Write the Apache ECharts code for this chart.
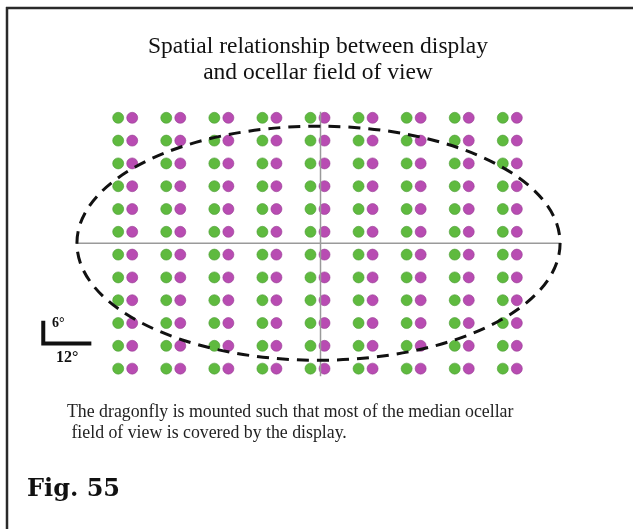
<!DOCTYPE html>
<html>
<head>
<meta charset="utf-8">
<script src="https://cdn.jsdelivr.net/npm/echarts@6/dist/echarts.min.js"></script>
<style>
html,body{margin:0;padding:0;background:#fff;}
#chart{width:633px;height:529px;}
</style>
</head>
<body>
<div id="chart"></div>
<script>
// Display layout, in degrees (azimuth, elevation)
const greenCols = [-50.5, -38.5, -26.5, -14.5, -2.5, 9.5, 21.5, 33.5, 45.5];
const magentaCols = [-47, -35, -23, -11, 1, 13, 25, 37, 49];
const rowElev = [33, 27, 21, 15, 9, 3, -3, -9, -15, -21, -27, -33];
// Ocellar field of view ellipse: [centerAz, centerEl, semiAz, semiEl]
const ocellarField = [[-0.5, 0, 60.3, 30.8]];
// Reference cross lines
const horizLine = [[-61, 0], [60, 0]];
const vertLine = [[0, 34.6], [0, -35]];
// Scale bar: 12 deg horizontal, 6 deg vertical
const scaleBar = [[-69.2, -20.4], [-69.2, -26.4], [-57.2, -26.4]];
const scaleLabels = ['6°', '12°'];
const titleLines = ['Spatial relationship between display', 'and ocellar field of view'];
const captionLines = ['The dragonfly is mounted such that most of the median ocellar', ' field of view is covered by the display.'];
const figLabel = 'Fig. 55';

function grid(cols, rows) {
  const out = [];
  rows.forEach(r => cols.forEach(c => out.push([c, r])));
  return out;
}

const chart = echarts.init(document.getElementById('chart'), null, {renderer: 'canvas'});
const serif = '"Liberation Serif", "Times New Roman", serif';
const option = {
  animation: false,
  backgroundColor: '#ffffff',
  grid: {left: 0, right: 0, top: 0, bottom: 0},
  xAxis: {type: 'value', min: -80, max: 78, show: false},
  yAxis: {type: 'value', min: -75.2, max: 64, show: false},
  series: [
    {
      type: 'scatter', name: 'green', data: grid(greenCols, rowElev),
      symbolSize: 11, z: 2,
      itemStyle: {color: '#5fba3f', borderColor: '#4a9a32', borderWidth: 0.6, opacity: 1}
    },
    {
      type: 'scatter', name: 'magenta', data: grid(magentaCols, rowElev),
      symbolSize: 11, z: 2,
      itemStyle: {color: '#b84cb2', borderColor: '#963a90', borderWidth: 0.6, opacity: 1}
    },
    {
      type: 'line', data: horizLine, symbol: 'none', z: 3,
      lineStyle: {color: '#9a9a9a', width: 1.5}
    },
    {
      type: 'line', data: vertLine, symbol: 'none', z: 3,
      lineStyle: {color: '#9a9a9a', width: 1.5}
    },
    {
      type: 'line', data: scaleBar, symbol: 'none', z: 3,
      lineStyle: {color: '#111', width: 4, join: 'miter', cap: 'butt'}
    },
    {
      type: 'custom', data: ocellarField, z: 4,
      renderItem: function (params, api) {
        const c = api.coord([api.value(0), api.value(1)]);
        const e = api.coord([api.value(0) + api.value(2), api.value(1) + api.value(3)]);
        return {
          type: 'ellipse',
          shape: {cx: c[0], cy: c[1], rx: e[0] - c[0], ry: c[1] - e[1]},
          style: {fill: null, stroke: '#111', lineWidth: 3, lineDash: [12, 8]}
        };
      }
    }
  ],
  graphic: [
    {type: 'line', shape: {x1: 6, y1: 8, x2: 633, y2: 8}, style: {stroke: '#2a2a2a', lineWidth: 2.5}},
    {type: 'line', shape: {x1: 7, y1: 7, x2: 7, y2: 529}, style: {stroke: '#2a2a2a', lineWidth: 2.5}},
    {type: 'text', x: 318, y: 47, style: {text: titleLines[0], font: '23.5px ' + serif, fill: '#111', textAlign: 'center', textVerticalAlign: 'middle'}},
    {type: 'text', x: 318, y: 73, style: {text: titleLines[1], font: '23.5px ' + serif, fill: '#111', textAlign: 'center', textVerticalAlign: 'middle'}},
    {type: 'text', x: 52, y: 323, style: {text: scaleLabels[0], font: 'bold 14px ' + serif, fill: '#111', textAlign: 'left', textVerticalAlign: 'middle'}},
    {type: 'text', x: 56, y: 358, style: {text: scaleLabels[1], font: 'bold 16px ' + serif, fill: '#111', textAlign: 'left', textVerticalAlign: 'middle'}},
    {type: 'text', x: 67, y: 412, style: {text: captionLines[0], font: '17.8px ' + serif, fill: '#222', textAlign: 'left', textVerticalAlign: 'middle'}},
    {type: 'text', x: 67, y: 433, style: {text: captionLines[1], font: '17.8px ' + serif, fill: '#222', textAlign: 'left', textVerticalAlign: 'middle'}},
    {type: 'text', x: 27, y: 490, style: {text: figLabel, font: 'bold 24px "DejaVu Serif", serif', fill: '#111', textAlign: 'left', textVerticalAlign: 'middle'}}
  ]
};
chart.setOption(option);
</script>
</body>
</html>
